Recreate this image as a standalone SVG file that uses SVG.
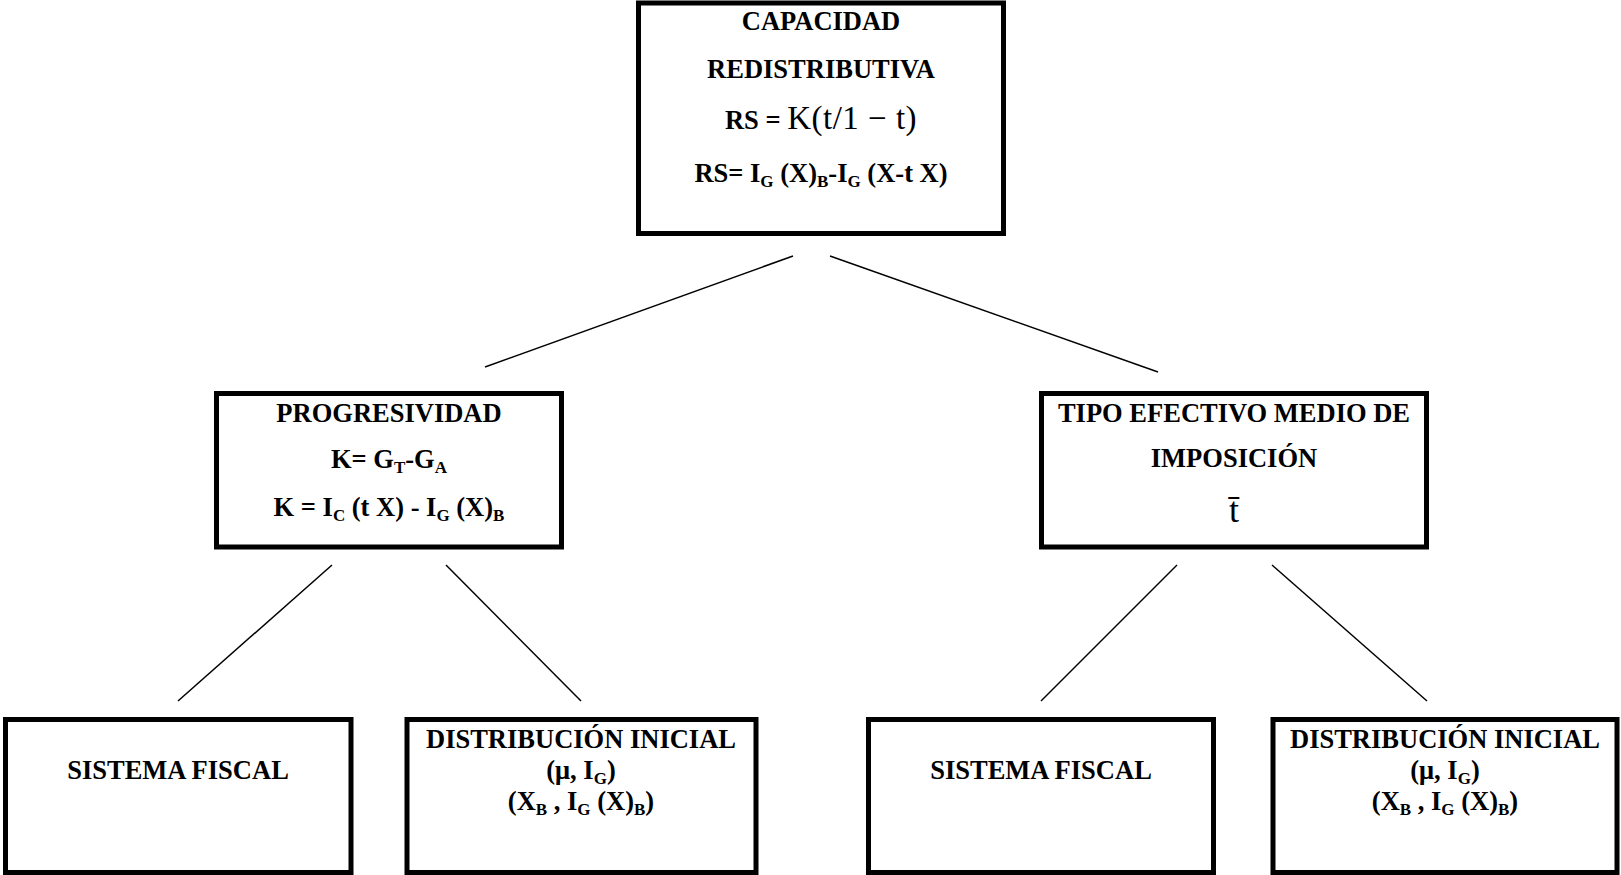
<svg xmlns="http://www.w3.org/2000/svg" width="1621" height="875" viewBox="0 0 1621 875">
<style>
.box{fill:#fff;stroke:#000;stroke-width:5}
.t{font-family:"Liberation Serif","Times New Roman",serif;font-weight:bold;font-size:26.5px;text-anchor:middle;fill:#000}
.s{font-size:17px}
.r{font-weight:normal}
.c line{stroke:#000;stroke-width:1.5}
</style>
<rect width="1621" height="875" fill="#fff"/>
<g class="c" id="connectors">
<line x1="793" y1="256" x2="485" y2="367"/>
<line x1="830" y1="256" x2="1158" y2="372"/>
<line x1="332" y1="565" x2="178" y2="701"/>
<line x1="446" y1="565" x2="581" y2="701"/>
<line x1="1177" y1="565" x2="1041" y2="701"/>
<line x1="1272" y1="565" x2="1427" y2="701"/>
</g>
<g id="capacidad">
<rect class="box" x="638.5" y="3" width="365" height="230.5"/>
<text class="t" x="821" y="30">CAPACIDAD</text>
<text class="t" x="821" y="78">REDISTRIBUTIVA</text>
<text class="t" x="821" y="129">RS = <tspan class="r" font-size="33" letter-spacing="0.5">K(t/1 − t)</tspan></text>
<text class="t" x="821" y="182">RS= I<tspan class="s" dy="5">G</tspan><tspan dy="-5"> (X)</tspan><tspan class="s" dy="5">B</tspan><tspan dy="-5">-I</tspan><tspan class="s" dy="5">G</tspan><tspan dy="-5"> (X-t X)</tspan></text>
</g>
<g id="progresividad">
<rect class="box" x="216.5" y="393.5" width="345" height="153.5"/>
<text class="t" x="389" y="422">PROGRESIVIDAD</text>
<text class="t" x="389" y="468">K= G<tspan class="s" dy="5">T</tspan><tspan dy="-5">-G</tspan><tspan class="s" dy="5">A</tspan></text>
<text class="t" x="389" y="516">K = I<tspan class="s" dy="5">C</tspan><tspan dy="-5"> (t X) - I</tspan><tspan class="s" dy="5">G</tspan><tspan dy="-5"> (X)</tspan><tspan class="s" dy="5">B</tspan></text>
</g>
<g id="tipo">
<rect class="box" x="1041.5" y="393.5" width="385" height="153.5"/>
<text class="t" x="1234" y="422">TIPO EFECTIVO MEDIO DE</text>
<text class="t" x="1234" y="467">IMPOSICIÓN</text>
<text class="t r" x="1234" y="522" style="font-size:36px">t̄</text>
</g>
<g id="sf1">
<rect class="box" x="5.5" y="719.5" width="345.5" height="153"/>
<text class="t" x="178" y="779">SISTEMA FISCAL</text>
</g>
<g id="di1">
<rect class="box" x="407" y="719.5" width="349" height="153"/>
<text class="t" x="581" y="748">DISTRIBUCIÓN INICIAL</text>
<text class="t" x="581" y="779">(μ, I<tspan class="s" dy="5">G</tspan><tspan dy="-5">)</tspan></text>
<text class="t" x="581" y="810">(X<tspan class="s" dy="5">B</tspan><tspan dy="-5"> , I</tspan><tspan class="s" dy="5">G</tspan><tspan dy="-5"> (X)</tspan><tspan class="s" dy="5">B</tspan><tspan dy="-5">)</tspan></text>
</g>
<g id="sf2">
<rect class="box" x="868.5" y="719.5" width="345" height="153"/>
<text class="t" x="1041" y="779">SISTEMA FISCAL</text>
</g>
<g id="di2">
<rect class="box" x="1273" y="719.5" width="344" height="153"/>
<text class="t" x="1445" y="748">DISTRIBUCIÓN INICIAL</text>
<text class="t" x="1445" y="779">(μ, I<tspan class="s" dy="5">G</tspan><tspan dy="-5">)</tspan></text>
<text class="t" x="1445" y="810">(X<tspan class="s" dy="5">B</tspan><tspan dy="-5"> , I</tspan><tspan class="s" dy="5">G</tspan><tspan dy="-5"> (X)</tspan><tspan class="s" dy="5">B</tspan><tspan dy="-5">)</tspan></text>
</g>
</svg>
